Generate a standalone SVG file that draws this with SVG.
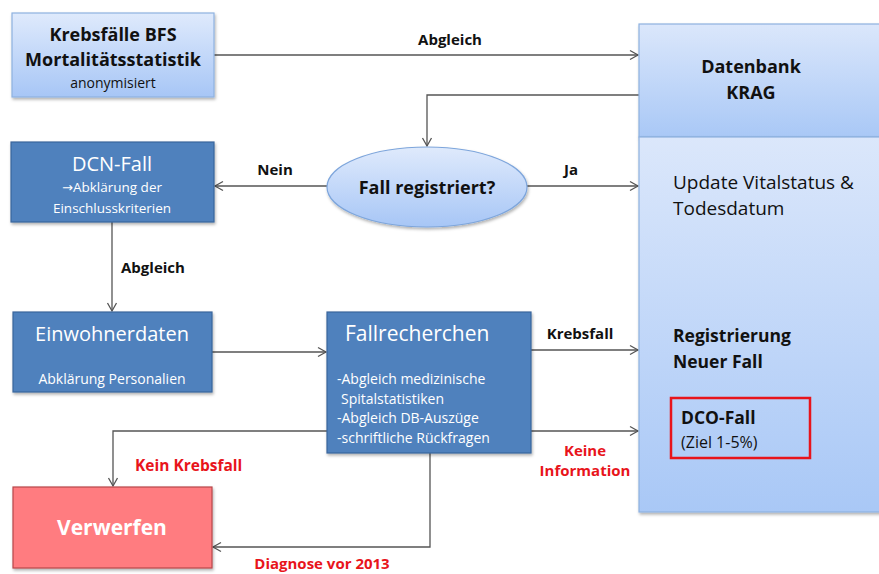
<svg xmlns="http://www.w3.org/2000/svg" width="879" height="574" viewBox="0 0 879 574">
<style>
text{font-family:"Open Sans","Liberation Sans",sans-serif;}
.b{font-weight:bold;}
.blk{fill:#111;}
.wht{fill:#fff;}
.red{fill:#e8141b;font-weight:bold;}
.light{stroke:#8eb1e0;stroke-width:1.2;}
.dark{fill:#4f81bd;stroke:#3a669b;stroke-width:1.2;}
.conn{fill:none;stroke:#555;stroke-width:1.3;marker-end:url(#ah);}
</style>
<defs>
<linearGradient id="lg" x1="0" y1="0" x2="0" y2="1">
<stop offset="0" stop-color="#dfeafc"/>
<stop offset="1" stop-color="#a7c6f6"/>
</linearGradient>
<linearGradient id="lg2" x1="0" y1="0" x2="0" y2="1">
<stop offset="0" stop-color="#dbe7fb"/>
<stop offset="1" stop-color="#a9c8f6"/>
</linearGradient>
<marker id="ah" markerWidth="12" markerHeight="12" refX="10" refY="6" orient="auto" markerUnits="userSpaceOnUse">
<path d="M2,1.5 L10,6 L2,10.5" fill="none" stroke="#555" stroke-width="1.3"/>
</marker>
<filter id="sh" x="-5%" y="-5%" width="115%" height="120%">
<feDropShadow dx="1" dy="2" stdDeviation="1.5" flood-color="#000" flood-opacity="0.3"/>
</filter>
</defs>
<rect width="879" height="574" fill="#fff"/>

<g id="connectors">
<path class="conn" d="M214,55 H638"/>
<path class="conn" d="M639,95 H427 V146"/>
<path class="conn" d="M527,186 H638"/>
<path class="conn" d="M327,186 H215"/>
<path class="conn" d="M112,222 V311"/>
<path class="conn" d="M212,352 H326"/>
<path class="conn" d="M531,350 H638"/>
<path class="conn" d="M531,431 H638"/>
<path class="conn" d="M327,431 H113 V486"/>
<path class="conn" d="M430,453 V547 H213"/>
<path class="conn" d="M744,318 V223"/>
<text class="b blk" x="450" y="45" font-size="15" text-anchor="middle">Abgleich</text>
<text class="b blk" x="571" y="175" font-size="15" text-anchor="middle">Ja</text>
<text class="b blk" x="275" y="175" font-size="15" text-anchor="middle">Nein</text>
<text class="b blk" x="121" y="273" font-size="15">Abgleich</text>
<text class="b blk" x="580" y="339" font-size="15" text-anchor="middle">Krebsfall</text>
<text class="red" x="585" y="456" font-size="15" text-anchor="middle">Keine</text>
<text class="red" x="585" y="476" font-size="15" text-anchor="middle">Information</text>
<text class="red" x="135" y="471" font-size="15.5">Kein Krebsfall</text>
<text class="red" x="322" y="569" font-size="15" text-anchor="middle">Diagnose vor 2013</text>
</g>

<g id="krebsfaelle">
<rect x="12" y="13" width="202" height="84" fill="url(#lg)" class="light" filter="url(#sh)"/>
<text class="b blk" x="113" y="41" font-size="18" text-anchor="middle">Krebsfälle BFS</text>
<text class="b blk" x="113" y="66" font-size="18" text-anchor="middle">Mortalitätsstatistik</text>
<text class="blk" x="113" y="88" font-size="14" text-anchor="middle">anonymisiert</text>
</g>

<g id="datenbank">
<rect x="639" y="24" width="242" height="113" fill="url(#lg2)" class="light" filter="url(#sh)"/>
<text class="b blk" x="751" y="73" font-size="18" text-anchor="middle">Datenbank</text>
<text class="b blk" x="751" y="99" font-size="18" text-anchor="middle">KRAG</text>
</g>

<g id="update">
<rect x="639" y="137" width="242" height="375" fill="url(#lg2)" class="light" filter="url(#sh)"/>
<text class="blk" x="673" y="189" font-size="19">Update Vitalstatus &amp;</text>
<text class="blk" x="673" y="215" font-size="19">Todesdatum</text>
<text class="b blk" x="673" y="342" font-size="17.5">Registrierung</text>
<text class="b blk" x="673" y="368" font-size="17.5">Neuer Fall</text>
</g>

<g id="dco">
<rect x="671" y="398" width="139" height="60" fill="none" stroke="#e8141b" stroke-width="2.5"/>
<text class="b blk" x="681" y="424" font-size="17.5">DCO-Fall</text>
<text class="blk" x="681" y="448" font-size="16">(Ziel 1-5%)</text>
</g>

<g id="fallregistriert">
<ellipse cx="427" cy="187" rx="100" ry="40" fill="url(#lg)" stroke="#7ea6dc" stroke-width="1.2" filter="url(#sh)"/>
<text class="b blk" x="427" y="194" font-size="18" text-anchor="middle">Fall registriert?</text>
</g>

<g id="dcn">
<rect x="11" y="142" width="203" height="80" class="dark" filter="url(#sh)"/>
<text class="wht" x="112" y="171" font-size="20" text-anchor="middle">DCN-Fall</text>
<text class="wht" x="112" y="192" font-size="13.5" text-anchor="middle"><tspan font-family="DejaVu Sans" font-size="13">→</tspan>Abklärung der</text>
<text class="wht" x="112" y="213" font-size="13.5" text-anchor="middle">Einschlusskriterien</text>
</g>

<g id="einwohner">
<rect x="13" y="312" width="199" height="80" class="dark" filter="url(#sh)"/>
<text class="wht" x="112" y="341" font-size="20" text-anchor="middle">Einwohnerdaten</text>
<text class="wht" x="112" y="384" font-size="14" text-anchor="middle">Abklärung Personalien</text>
</g>

<g id="fallrecherchen">
<rect x="327" y="312" width="204" height="141" class="dark" filter="url(#sh)"/>
<text class="wht" x="345" y="341" font-size="21">Fallrecherchen</text>
<text class="wht" x="337" y="384" font-size="14">-Abgleich medizinische</text>
<text class="wht" x="341" y="404" font-size="14">Spitalstatistiken</text>
<text class="wht" x="337" y="423" font-size="14">-Abgleich DB-Auszüge</text>
<text class="wht" x="337" y="443" font-size="14">-schriftliche Rückfragen</text>
</g>

<g id="verwerfen">
<rect x="13" y="487" width="199" height="81" fill="#ff7c80" stroke="#b8474a" stroke-width="1.2" filter="url(#sh)"/>
<text class="b wht" x="112" y="535" font-size="21" text-anchor="middle">Verwerfen</text>
</g>
</svg>
